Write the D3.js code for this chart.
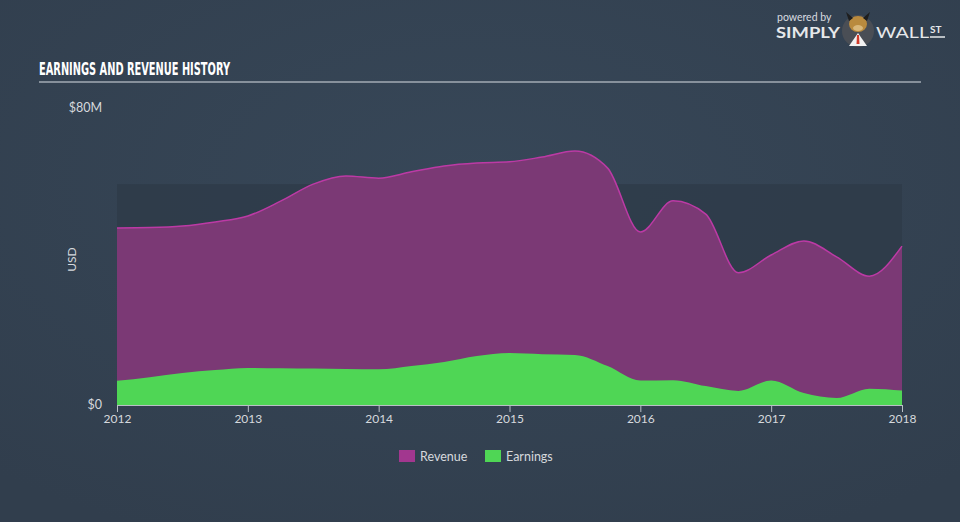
<!DOCTYPE html>
<html>
<head>
<meta charset="utf-8">
<script src="https://cdn.jsdelivr.net/npm/d3@7"></script>
<style>
  html, body { margin: 0; padding: 0; background: #344252; }
  svg { display: block; }
</style>
</head>
<body>
<svg id="chart" width="960" height="522"></svg>
<script>
// ---- data (values in USD millions) ----
const periods = [2012.0, 2012.25, 2012.5, 2012.75, 2013.0, 2013.25, 2013.5, 2013.75,
  2014.0, 2014.25, 2014.5, 2014.75, 2015.0, 2015.25, 2015.5, 2015.75,
  2016.0, 2016.25, 2016.5, 2016.75, 2017.0, 2017.25, 2017.5, 2017.75, 2018.0];
const revenue = [47.7, 47.8, 48.2, 49.3, 50.9, 54.9, 59.5, 61.7,
  61.1, 62.8, 64.4, 65.2, 65.5, 66.8, 68.4, 63.8,
  46.6, 55.0, 51.4, 35.6, 40.4, 44.2, 39.9, 34.7, 42.8];
const earnings = [6.5, 7.5, 8.6, 9.4, 10.0, 9.9, 9.8, 9.7,
  9.6, 10.5, 11.6, 13.2, 14.0, 13.7, 13.5, 10.5,
  6.6, 6.7, 5.1, 3.8, 6.6, 3.2, 1.9, 4.4, 3.9];
const xTickLabels = [2012, 2013, 2014, 2015, 2016, 2017, 2018];
const yTickLabels = [{v: 0, t: "$0"}, {v: 80, t: "$80M"}];
const bandTop = 59.5;
const seriesNames = ["Revenue", "Earnings"];

// ---- layout ----
const svg = d3.select("#chart");
const W = 960, H = 522;
const x = d3.scaleLinear().domain([2012, 2018]).range([117, 902]);
const y = d3.scaleLinear().domain([0, 80]).range([405, 108]);

const defs = svg.append("defs");
const grad = defs.append("radialGradient").attr("id", "bg")
  .attr("cx", "50%").attr("cy", "35%").attr("r", "75%");
grad.append("stop").attr("offset", "0%").attr("stop-color", "#374758");
grad.append("stop").attr("offset", "100%").attr("stop-color", "#313e4d");
svg.append("rect").attr("width", W).attr("height", H).attr("fill", "url(#bg)");

// dark band
svg.append("rect")
  .attr("x", x(2012)).attr("y", y(bandTop))
  .attr("width", x(2018) - x(2012)).attr("height", y(0) - y(bandTop))
  .attr("fill", "#2e3b49").attr("opacity", 0.8);

// title
svg.append("text")
  .attr("x", 39).attr("y", 75)
  .attr("font-family", "'Liberation Sans Narrow', 'DejaVu Sans Condensed', sans-serif")
  .attr("font-weight", "bold")
  .attr("font-size", 17)
  .attr("fill", "#ffffff")
  .attr("textLength", 191)
  .attr("lengthAdjust", "spacingAndGlyphs")
  .text("EARNINGS AND REVENUE HISTORY");
svg.append("line")
  .attr("x1", 39).attr("x2", 921).attr("y1", 82).attr("y2", 82)
  .attr("stroke", "#a3abb4").attr("stroke-width", 1.5);

// logo
const logo = svg.append("g").attr("font-family", "Lato, 'Open Sans', sans-serif");
logo.append("text").attr("x", 777).attr("y", 21).attr("font-size", 10.5)
  .attr("fill", "#d8dce0").text("powered by");
logo.append("text").attr("x", 776).attr("y", 38).attr("font-size", 15.5)
  .attr("font-weight", "bold").attr("fill", "#e6e8ea")
  .attr("textLength", 64).attr("lengthAdjust", "spacingAndGlyphs").text("SIMPLY");
logo.append("circle").attr("cx", 858).attr("cy", 31).attr("r", 16).attr("fill", "#4a4e55");
logo.append("ellipse").attr("cx", 858).attr("cy", 24).attr("rx", 9).attr("ry", 8).attr("fill", "#b98a3e");
logo.append("ellipse").attr("cx", 858).attr("cy", 28).attr("rx", 5).attr("ry", 3).attr("fill", "#d9b77a");
logo.append("path").attr("d", "M846,12 L849,21 L853,18 Z M870,12 L867,21 L863,18 Z").attr("fill", "#1e1e1e");
logo.append("path").attr("d", "M849,46 L858,33 L867,46 Z").attr("fill", "#f2f2f2");
logo.append("path").attr("d", "M857,35 L859,35 L859.5,44 L856.5,44 Z").attr("fill", "#d23b2b");
logo.append("text").attr("x", 876).attr("y", 38).attr("font-size", 15.5)
  .attr("fill", "#e6e8ea").attr("textLength", 53).attr("lengthAdjust", "spacingAndGlyphs").text("WALL");
logo.append("text").attr("x", 930).attr("y", 33).attr("font-size", 10)
  .attr("font-weight", "bold").attr("fill", "#e6e8ea").text("ST");
logo.append("line").attr("x1", 930).attr("x2", 945).attr("y1", 37).attr("y2", 37)
  .attr("stroke", "#e6e8ea").attr("stroke-width", 1.5);

// areas
const revArea = d3.area().x((d, i) => x(periods[i])).y0(y(0)).y1(d => y(d)).curve(d3.curveMonotoneX);
const revLine = d3.line().x((d, i) => x(periods[i])).y(d => y(d)).curve(d3.curveMonotoneX);
const earnArea = d3.area().x((d, i) => x(periods[i])).y0(y(0)).y1(d => y(d)).curve(d3.curveMonotoneX);

svg.append("path").datum(revenue).attr("d", revArea).attr("fill", "#7b3975");
svg.append("path").datum(revenue).attr("d", revLine).attr("fill", "none")
  .attr("stroke", "#bc3aa5").attr("stroke-width", 1.5);
svg.append("path").datum(earnings).attr("d", earnArea).attr("fill", "#4fd655");

// x axis
const xAxis = d3.axisBottom(x).tickValues(xTickLabels).tickFormat(d3.format("d"))
  .tickSize(7).tickPadding(2);
const gx = svg.append("g").attr("transform", `translate(0,${y(0)})`).call(xAxis);
gx.select(".domain").attr("stroke", "#b9bfc6").attr("stroke-width", 1);
gx.selectAll(".tick line").attr("stroke", "#b9bfc6");
gx.selectAll(".tick text").attr("fill", "#d6d9dd").attr("font-size", 12)
  .attr("font-family", "Lato, 'Open Sans', sans-serif");

// y labels
svg.selectAll(".ylab").data(yTickLabels).enter().append("text")
  .attr("class", "ylab")
  .attr("x", 102).attr("y", d => y(d.v)).attr("dy", "0.35em")
  .attr("text-anchor", "end").attr("font-size", 12.5)
  .attr("font-family", "Lato, 'Open Sans', sans-serif")
  .attr("fill", "#d6d9dd").text(d => d.t);
svg.append("text")
  .attr("transform", `translate(72,${(y(0) + y(80)) / 2 + 3}) rotate(-90)`)
  .attr("text-anchor", "middle").attr("dy", "0.35em").attr("font-size", 12)
  .attr("font-family", "Lato, 'Open Sans', sans-serif")
  .attr("fill", "#d6d9dd").text("USD");

// legend
const legendColors = ["#a2378f", "#4fd655"];
const legendX = [399, 485];
const lg = svg.append("g");
seriesNames.forEach((name, i) => {
  lg.append("rect").attr("x", legendX[i]).attr("y", 450).attr("width", 16).attr("height", 12)
    .attr("fill", legendColors[i]);
  lg.append("text").attr("x", legendX[i] + 21).attr("y", 461)
    .attr("font-size", 12.5).attr("font-family", "Lato, 'Open Sans', sans-serif")
    .attr("fill", "#d6d9dd").text(name);
});
</script>
</body>
</html>
